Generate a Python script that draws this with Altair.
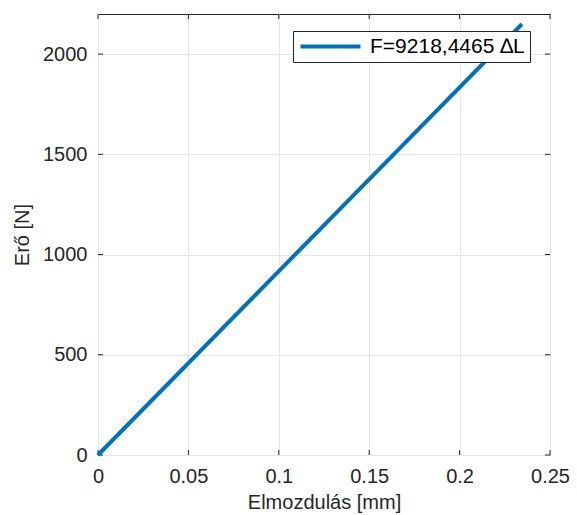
import altair as alt
import pandas as pd

# data
disp_mm = [0.0, 0.2345]
force_N = [0.0, 2150.0]
series_name = "F=9218,4465 \u2206L"

x_ticks = [0, 0.05, 0.1, 0.15, 0.2, 0.25]
y_ticks = [0, 500, 1000, 1500, 2000]

W, H = 452, 441
FONT = "Liberation Sans"
AX = "#262626"
BLUE = "#0072BD"

df = pd.DataFrame({"x": disp_mm, "y": force_N, "s": [series_name] * len(disp_mm)})
xt = pd.DataFrame({"t": x_ticks})
yt = pd.DataFrame({"t": y_ticks})

xs = alt.Scale(domain=[0, 0.25], nice=False, zero=False)
ys = alt.Scale(domain=[0, 2200], nice=False, zero=False)

line = alt.Chart(df).mark_line(strokeWidth=4, strokeCap="butt").encode(
    x=alt.X("x:Q", scale=xs, title="Elmozdulás [mm]",
            axis=alt.Axis(values=x_ticks, format="~g", grid=True)),
    y=alt.Y("y:Q", scale=ys, title="Erő [N]",
            axis=alt.Axis(values=y_ticks, format="d", grid=True)),
    color=alt.Color("s:N", scale=alt.Scale(range=[BLUE]),
                    legend=alt.Legend(title=None, orient="none", legendX=195, legendY=17,
                                      symbolType="M-4,0H4", symbolSize=225,
                                      symbolStrokeWidth=4, symbolOffset=22,
                                      labelFontSize=21,
                                      labelFont=FONT, labelColor="#000000",
                                      strokeColor=AX, fillColor="white",
                                      padding=5, labelOffset=29)),
)

tick_style = dict(color=AX, strokeWidth=1)
xb = alt.Chart(xt).mark_rule(**tick_style).encode(x=alt.X("t:Q", scale=xs), y=alt.value(H), y2=alt.value(H - 5))
xtp = alt.Chart(xt).mark_rule(**tick_style).encode(x=alt.X("t:Q", scale=xs), y=alt.value(0), y2=alt.value(5))
yl = alt.Chart(yt).mark_rule(**tick_style).encode(y=alt.Y("t:Q", scale=ys), x=alt.value(0), x2=alt.value(5))
yr = alt.Chart(yt).mark_rule(**tick_style).encode(y=alt.Y("t:Q", scale=ys), x=alt.value(W), x2=alt.value(W - 5))

chart = alt.layer(xb, xtp, yl, yr, line).properties(
    width=W, height=H,
    background="white",
    autosize=alt.AutoSizeParams(type="none"),
    padding={"left": 98, "top": 14, "right": 27, "bottom": 60},
).configure_view(stroke=AX, strokeWidth=1).configure_axis(
    domain=False, ticks=False, gridColor="#e6e6e6", gridWidth=1,
    labelFont=FONT, labelFontSize=20, labelColor=AX, labelFlush=False,
    titleFont=FONT, titleFontSize=20, titleColor=AX, titleFontWeight="normal",
).configure_axisX(titlePadding=6, labelPadding=11).configure_axisY(titlePadding=10, labelPadding=11)

chart.save("out.html", embed_options={"renderer": "svg", "actions": False})
